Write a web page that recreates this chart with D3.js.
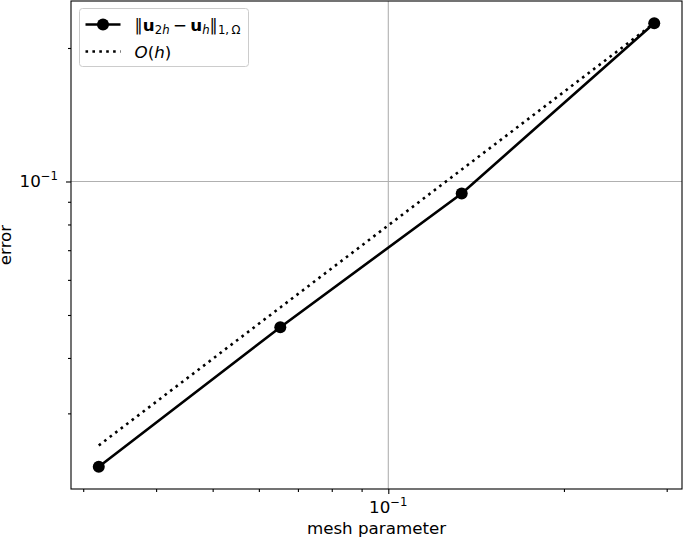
<!DOCTYPE html>
<html>
<head>
<meta charset="utf-8">
<script src="https://cdn.jsdelivr.net/npm/d3@7"></script>
<style>
  html, body { margin: 0; padding: 0; background: #fff; }
  svg { display: block; font-family: "DejaVu Sans", sans-serif; }
</style>
</head>
<body>
<div id="chart"></div>
<script>
// mesh sizes and errors
const meshSizes = [0.0319, 0.0653, 0.1336, 0.2856];
const errors = [0.02273, 0.04692, 0.09395, 0.2275];
const orderH = [0.0254, 0.0520, 0.1064, 0.2275];

const xMajor = [0.1];
const xMinor = [0.03, 0.04, 0.05, 0.06, 0.07, 0.08, 0.09, 0.2, 0.3];
const yMajor = [0.1];
const yMinor = [0.02, 0.03, 0.04, 0.05, 0.06, 0.07, 0.08, 0.09, 0.2];

const width = 685, height = 540;
const margin = {top: 1, right: 3, bottom: 51, left: 71};
const w = width - margin.left - margin.right;
const h = height - margin.top - margin.bottom;
const fs = 16.7, fsSmall = 11.7;

// matplotlib style 5% padding in log space
function padded(vals) {
    const e = d3.extent(vals).map(Math.log10);
    const p = (e[1] - e[0]) * 0.05;
    return [Math.pow(10, e[0] - p), Math.pow(10, e[1] + p)];
}

const x = d3.scaleLog().domain(padded(meshSizes)).range([0, w]);
const y = d3.scaleLog().domain(padded(errors.concat(orderH))).range([h, 0]);

function inside(scale) {
    const dm = scale.domain();
    return v => v >= Math.min(dm[0], dm[1]) && v <= Math.max(dm[0], dm[1]);
}

const svg = d3.select('#chart').append('svg')
    .attr('width', width)
    .attr('height', height);

const g = svg.append('g')
    .attr('transform', 'translate(' + margin.left + ',' + margin.top + ')');

// grid at major ticks
g.selectAll('.gx').data(xMajor).enter().append('line')
    .attr('x1', d => x(d)).attr('x2', d => x(d))
    .attr('y1', 0).attr('y2', h)
    .attr('stroke', '#b0b0b0').attr('stroke-width', 1.1);
g.selectAll('.gy').data(yMajor).enter().append('line')
    .attr('y1', d => y(d)).attr('y2', d => y(d))
    .attr('x1', 0).attr('x2', w)
    .attr('stroke', '#b0b0b0').attr('stroke-width', 1.1);

// axes: minor ticks then major ticks
function styleAxis(sel) {
    sel.select('.domain').remove();
    sel.selectAll('line').attr('stroke', '#000').attr('stroke-width', 1.1);
}
g.append('g').attr('transform', 'translate(0,' + h + ')')
    .call(d3.axisBottom(x).tickValues(xMinor.filter(inside(x))).tickSize(3).tickFormat(''))
    .call(styleAxis);
g.append('g').attr('transform', 'translate(0,' + h + ')')
    .call(d3.axisBottom(x).tickValues(xMajor).tickSize(5).tickFormat(''))
    .call(styleAxis);
g.append('g')
    .call(d3.axisLeft(y).tickValues(yMinor.filter(inside(y))).tickSize(3).tickFormat(''))
    .call(styleAxis);
g.append('g')
    .call(d3.axisLeft(y).tickValues(yMajor).tickSize(5).tickFormat(''))
    .call(styleAxis);

// 10^-1 labels
function powLabel(sel) {
    sel.append('tspan').text('10');
    sel.append('tspan').attr('dy', -7).attr('font-size', fsSmall).text('\u22121');
}
g.selectAll('.xl').data(xMajor).enter().append('text')
    .attr('x', d => x(d)).attr('y', h + 24)
    .attr('text-anchor', 'middle')
    .attr('font-size', fs)
    .call(powLabel);
g.selectAll('.yl').data(yMajor).enter().append('text')
    .attr('x', -13).attr('y', d => y(d) + 6)
    .attr('text-anchor', 'end')
    .attr('font-size', fs)
    .call(powLabel);

// data lines
const line = d3.line()
    .x(d => x(d[0]))
    .y(d => y(d[1]));

g.append('path')
    .datum(meshSizes.map((m, i) => [m, orderH[i]]))
    .attr('d', line)
    .attr('fill', 'none')
    .attr('stroke', '#000')
    .attr('stroke-width', 2.6)
    .attr('stroke-dasharray', '2.6,4.3');

g.append('path')
    .datum(meshSizes.map((m, i) => [m, errors[i]]))
    .attr('d', line)
    .attr('fill', 'none')
    .attr('stroke', '#000')
    .attr('stroke-width', 2.6);

g.selectAll('.dot')
    .data(meshSizes.map((m, i) => [m, errors[i]]))
    .enter().append('circle')
    .attr('cx', d => x(d[0]))
    .attr('cy', d => y(d[1]))
    .attr('r', 6)
    .attr('fill', '#000');

// spines
g.append('rect')
    .attr('x', 0).attr('y', 0).attr('width', w).attr('height', h)
    .attr('fill', 'none').attr('stroke', '#000').attr('stroke-width', 1.1);

// axis labels
svg.append('text')
    .attr('x', margin.left + w / 2).attr('y', 534)
    .attr('text-anchor', 'middle')
    .attr('font-size', fs)
    .text('mesh parameter');
svg.append('text')
    .attr('transform', 'translate(11,' + (margin.top + h / 2) + ') rotate(-90)')
    .attr('text-anchor', 'middle')
    .attr('font-size', fs)
    .text('error');

// legend
const leg = g.append('g').attr('transform', 'translate(8.5,7.5)');
leg.append('rect')
    .attr('width', 169).attr('height', 58).attr('rx', 3)
    .attr('fill', '#fff').attr('fill-opacity', 0.8)
    .attr('stroke', '#cccccc').attr('stroke-width', 1);
leg.append('line').attr('x1', 6).attr('x2', 41).attr('y1', 16).attr('y2', 16)
    .attr('stroke', '#000').attr('stroke-width', 2.6);
leg.append('circle').attr('cx', 23.5).attr('cy', 16).attr('r', 6).attr('fill', '#000');
leg.append('line').attr('x1', 6).attr('x2', 41).attr('y1', 43).attr('y2', 43)
    .attr('stroke', '#000').attr('stroke-width', 2.6)
    .attr('stroke-dasharray', '2.6,4.3');

const t1 = leg.append('text').attr('x', 55).attr('y', 22).attr('font-size', fs);
t1.append('tspan').text('\u2225');
t1.append('tspan').attr('font-weight', 'bold').text('u');
t1.append('tspan').attr('font-size', fsSmall).attr('dy', 3.5).text('2');
t1.append('tspan').attr('font-size', fsSmall).attr('font-style', 'italic').text('h');
t1.append('tspan').attr('dy', -3.5).text('\u2009\u2212\u2009');
t1.append('tspan').attr('font-weight', 'bold').text('u');
t1.append('tspan').attr('font-size', fsSmall).attr('font-style', 'italic').attr('dy', 3.5).text('h');
t1.append('tspan').attr('dy', -3.5).text('\u2225');
t1.append('tspan').attr('font-size', fsSmall).attr('dy', 3.5).text('1,\u2009\u03a9');

const t2 = leg.append('text').attr('x', 55).attr('y', 49).attr('font-size', fs);
t2.append('tspan').attr('font-style', 'italic').text('O');
t2.append('tspan').text('(');
t2.append('tspan').attr('font-style', 'italic').text('h');
t2.append('tspan').text(')');
</script>
</body>
</html>
